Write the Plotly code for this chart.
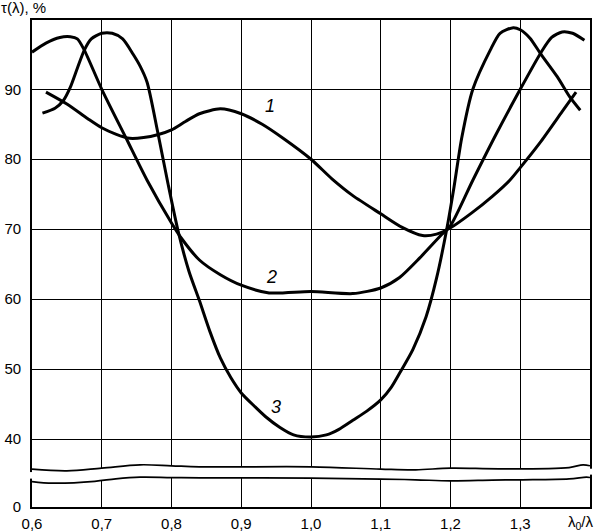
import plotly.graph_objects as go

# curve 1
c1_x = [0.62, 0.65, 0.68, 0.70, 0.72, 0.74, 0.76, 0.78, 0.80, 0.82, 0.84, 0.87, 0.90, 0.93, 0.96,
        1.00, 1.03, 1.06, 1.10, 1.13, 1.16, 1.18, 1.20, 1.23, 1.26, 1.285, 1.30, 1.33, 1.36, 1.38]
c1_y = [89.6, 87.9, 85.8, 84.5, 83.6, 83.0, 83.1, 83.5, 84.2, 85.4, 86.5, 87.2, 86.5, 85.0, 83.0,
        80.0, 77.2, 74.8, 72.2, 70.3, 69.1, 69.3, 70.2, 72.3, 74.7, 77.0, 78.8, 82.6, 86.8, 89.6]

# curve 2
c2_x = [0.60, 0.62, 0.64, 0.655, 0.665, 0.675, 0.70, 0.735, 0.765, 0.80, 0.815, 0.84, 0.87, 0.90, 0.94,
        1.00, 1.06, 1.10, 1.127, 1.156, 1.187, 1.20, 1.232, 1.265, 1.30, 1.33, 1.345, 1.36, 1.375, 1.392]
c2_y = [95.3, 96.6, 97.4, 97.5, 97.2, 95.6, 90.0, 83.0, 77.0, 70.9, 68.6, 65.6, 63.5, 62.0, 60.9,
        61.1, 60.8, 61.6, 63.1, 65.9, 69.2, 70.5, 77.0, 83.5, 90.0, 95.3, 97.4, 98.2, 98.0, 97.0]

# curve 3
c3_x = [0.615, 0.633, 0.645, 0.655, 0.665, 0.675, 0.685, 0.70, 0.715, 0.73, 0.745, 0.755, 0.765, 0.78,
        0.795, 0.81, 0.825, 0.84, 0.855, 0.87, 0.885, 0.90, 0.92, 0.935, 0.955, 0.975, 1.00, 1.022,
        1.04, 1.06, 1.08, 1.10, 1.115, 1.128, 1.146, 1.165, 1.18, 1.195, 1.205, 1.216, 1.232, 1.257,
        1.271, 1.29, 1.30, 1.314, 1.329, 1.353, 1.371, 1.386]
c3_y = [86.6, 87.3, 88.4, 90.3, 93.0, 95.6, 97.2, 98.0, 98.0, 97.2, 95.0, 93.3, 91.0, 84.0,
        76.5, 69.5, 64.0, 59.8, 55.4, 51.6, 48.8, 46.6, 44.6, 43.2, 41.7, 40.6, 40.3, 40.6,
        41.4, 42.7, 44.0, 45.6, 47.4, 49.6, 52.8, 57.5, 63.0, 70.2, 76.0, 83.0, 90.0, 95.6,
        98.0, 98.8, 98.5, 97.3, 95.1, 91.8, 88.9, 87.0]

# axis break (wavy lines), upper and lower
brk_a_x = [0.6, 0.65, 0.7, 0.755, 0.8, 0.84, 1.0, 1.1, 1.15, 1.2, 1.27, 1.37, 1.39, 1.4]
brk_a_y = [35.71, 35.47, 35.86, 36.33, 36.19, 36.04, 36.04, 35.71, 35.61, 35.86, 35.76, 35.94, 36.33, 36.19]
brk_b_x = [0.6, 0.63, 0.69, 0.72, 0.755, 0.8, 0.841, 1.0, 1.1, 1.15, 1.2, 1.26, 1.3, 1.37, 1.395, 1.4]
brk_b_y = [33.94, 33.71, 33.97, 34.33, 34.57, 34.51, 34.47, 34.43, 34.29, 34.19, 34.04, 34.14, 34.19, 34.33, 34.57, 34.51]

x_ticks = [0.6, 0.7, 0.8, 0.9, 1.0, 1.1, 1.2, 1.3]
x_text = ["0,6", "0,7", "0,8", "0,9", "1,0", "1,1", "1,2", "1,3"]
y_zero = 30.3  # where the "0" label sits on the broken axis
y_ticks = [y_zero, 40, 50, 60, 70, 80, 90]
y_text = ["0", "40", "50", "60", "70", "80", "90"]
y_range = [y_zero, 99.9]

font = "Arial, Liberation Sans, sans-serif"

fig = go.Figure()
fig.add_trace(go.Scatter(x=brk_b_x, y=brk_b_y, mode="lines", line=dict(color="black", width=1.7, shape="spline")))
fig.add_trace(go.Scatter(x=brk_a_x, y=brk_a_y, mode="lines", line=dict(color="black", width=1.7, shape="spline"),
                         fill="tonexty", fillcolor="white"))
for xs, ys in [(c1_x, c1_y), (c2_x, c2_y), (c3_x, c3_y)]:
    fig.add_trace(go.Scatter(x=xs, y=ys, mode="lines",
                             line=dict(color="black", width=3, shape="spline", smoothing=0.7)))

# white out the frame between the break lines
span = y_range[1] - y_range[0]
for xp0, xp1, ya, yb in [(-0.01, 0.002, brk_a_y[0], brk_b_y[0]), (0.998, 1.01, brk_a_y[-1], brk_b_y[-1])]:
    fig.add_shape(type="rect", xref="paper", yref="paper", x0=xp0, x1=xp1,
                  y0=(yb - y_range[0]) / span + 0.006, y1=(ya - y_range[0]) / span - 0.006,
                  fillcolor="white", line=dict(width=0), layer="above")

for txt, lx, ly in [("1", 0.941, 87.6), ("2", 0.944, 63.2), ("3", 0.95, 44.6)]:
    fig.add_annotation(x=lx, y=ly, text="<i>" + txt + "</i>", showarrow=False,
                       font=dict(family=font, size=18, color="black"))

fig.add_annotation(xref="paper", yref="paper", x=0, y=1, xshift=-33, yshift=2,
                   xanchor="left", yanchor="bottom", text="τ(λ), %", showarrow=False,
                   font=dict(family=font, size=15, color="black"))
fig.add_annotation(xref="x", yref="paper", x=1.4, y=0, xshift=-9, yshift=-4,
                   xanchor="center", yanchor="top", text="λ<sub>0</sub>/λ", showarrow=False,
                   font=dict(family=font, size=15, color="black"))

fig.update_xaxes(range=[0.6, 1.4], tickvals=x_ticks, ticktext=x_text, tickmode="array", showgrid=True,
                 gridcolor="black", gridwidth=1, showline=True, linecolor="black", linewidth=1.6,
                 mirror=True, layer="below traces", ticks="", ticklabelstandoff=2,
                 zeroline=False, automargin=False)
fig.update_yaxes(range=y_range, tickvals=y_ticks, ticktext=y_text, tickmode="array", showgrid=True,
                 gridcolor="black", gridwidth=1, showline=True, linecolor="black", linewidth=1.6,
                 mirror=True, layer="below traces", ticks="", ticklabelstandoff=6,
                 zeroline=False, automargin=False)
fig.update_layout(width=601, height=531, showlegend=False,
                  margin=dict(l=32, r=11, t=20, b=24),
                  plot_bgcolor="white", paper_bgcolor="white",
                  font=dict(family=font, size=15, color="black"))
fig.write_html("out.html", config={"displayModeBar": False},
               post_script="document.body.style.margin='0';")
